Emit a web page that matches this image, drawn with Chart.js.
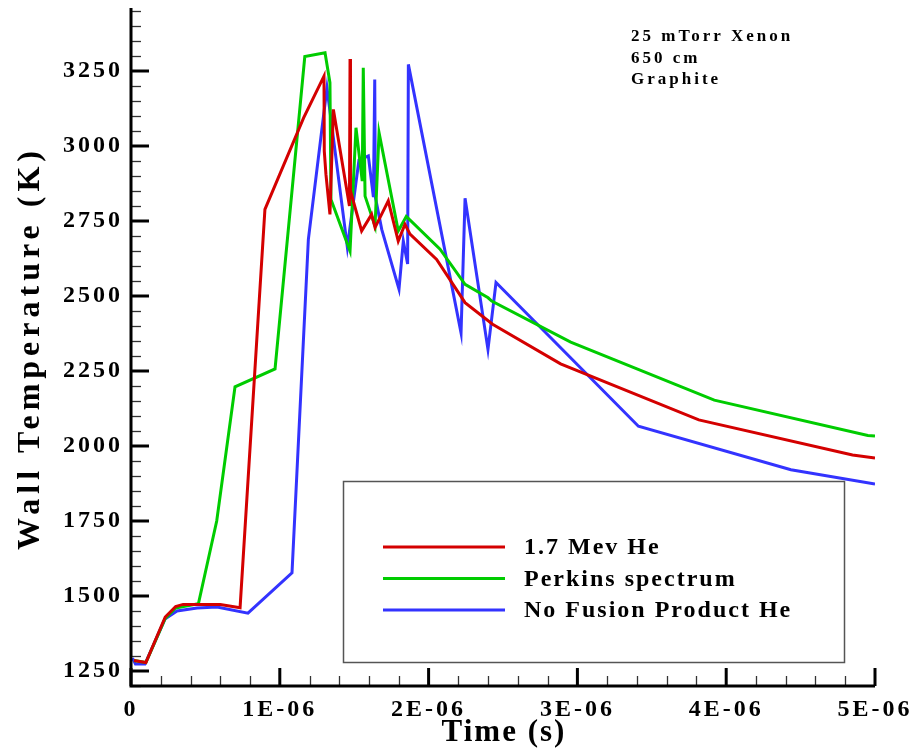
<!DOCTYPE html>
<html>
<head>
<meta charset="utf-8">
<script src="https://cdn.jsdelivr.net/npm/chart.js@4.4.0/dist/chart.umd.min.js"></script>
<style>
  html, body { margin: 0; padding: 0; background: #fff; }
  canvas { display: block; }
</style>
</head>
<body>
<canvas id="wallChart" width="914" height="748"></canvas>
<script>
// 1.7 MeV He
const redTime = [0.02e-6, 0.10e-6, 0.23e-6, 0.30e-6, 0.35e-6, 0.60e-6, 0.733e-6, 0.90e-6, 1.16e-6, 1.297e-6,
  1.299e-6, 1.31e-6, 1.337e-6, 1.36e-6, 1.468e-6, 1.472e-6, 1.475e-6, 1.55e-6, 1.617e-6, 1.64e-6,
  1.729e-6, 1.796e-6, 1.841e-6, 1.875e-6, 2.054e-6, 2.245e-6, 2.43e-6, 2.887e-6, 3.816e-6, 4.849e-6, 5.0e-6];
const redTemp = [1285, 1278, 1430, 1465, 1472, 1472, 1461, 2789, 3094, 3233,
  2983, 2906, 2772, 3122, 2800, 3290, 2850, 2717, 2772, 2728,
  2817, 2683, 2739, 2706, 2622, 2478, 2406, 2274, 2087, 1970, 1960];

// Perkins spectrum
const greenTime = [0.02e-6, 0.10e-6, 0.23e-6, 0.30e-6, 0.453e-6, 0.576e-6, 0.699e-6, 0.968e-6, 1.168e-6, 1.304e-6,
  1.337e-6, 1.344e-6, 1.472e-6, 1.512e-6, 1.554e-6, 1.561e-6, 1.573e-6, 1.64e-6, 1.667e-6, 1.796e-6,
  1.85e-6, 2.077e-6, 2.245e-6, 2.40e-6, 2.424e-6, 2.955e-6, 3.92e-6, 4.952e-6, 5.0e-6];
const greenTemp = [1285, 1278, 1425, 1460, 1474, 1750, 2197, 2257, 3298, 3311,
  3211, 2822, 2650, 3061, 2883, 3261, 2833, 2733, 3044, 2717,
  2765, 2656, 2539, 2494, 2483, 2346, 2153, 2035, 2033];

// No Fusion Product He
const blueTime = [0.01e-6, 0.03e-6, 0.094e-6, 0.228e-6, 0.309e-6, 0.444e-6, 0.578e-6, 0.786e-6, 1.082e-6, 1.192e-6,
  1.317e-6, 1.454e-6, 1.532e-6, 1.595e-6, 1.629e-6, 1.638e-6, 1.642e-6, 1.685e-6, 1.801e-6, 1.83e-6,
  1.859e-6, 1.864e-6, 2.218e-6, 2.245e-6, 2.399e-6, 2.453e-6, 3.41e-6, 4.435e-6, 5.0e-6];
const blueTemp = [1293, 1273, 1273, 1423, 1450, 1460, 1463, 1443, 1577, 2689,
  3194, 2663, 2953, 2967, 2830, 3222, 2830, 2722, 2523, 2683,
  2607, 3272, 2377, 2826, 2322, 2545, 2066, 1921, 1873];

const seriesNames = ['1.7 Mev He', 'Perkins spectrum', 'No Fusion Product He'];
const seriesColors = ['#d40000', '#00cc00', '#3333ff'];

const xTickValues = [0, 1e-6, 2e-6, 3e-6, 4e-6, 5e-6];
const xTickLabels = ['0', '1E-06', '2E-06', '3E-06', '4E-06', '5E-06'];
const yTickValues = [1250, 1500, 1750, 2000, 2250, 2500, 2750, 3000, 3250];
const xTitle = 'Time (s)';
const yTitle = 'Wall Temperature (K)';
const noteLines = ['25 mTorr Xenon', '650 cm', 'Graphite'];

const FONT = '"Liberation Serif", "DejaVu Serif", serif';

function toPoints(xs, ys) {
  return xs.map((t, i) => ({ x: t, y: ys[i] }));
}

// Chart.js adds room for half labels; the plot box is fixed here instead
function fixBox(s) {
  s.paddingTop = 0; s.paddingBottom = 0; s.paddingLeft = 0; s.paddingRight = 0;
}

// axes with inward ticks, titles, legend box and note
const tecplotLook = {
  id: 'tecplotLook',
  beforeLayout(chart) { chart.ctx.letterSpacing = '3px'; },
  beforeDraw(chart) { chart.ctx.letterSpacing = '3px'; },
  afterDraw(chart) {
    const { ctx, chartArea: a, scales: { x, y } } = chart;
    ctx.save();
    ctx.lineCap = 'butt';

    // minor ticks
    ctx.lineWidth = 1.3;
    ctx.strokeStyle = '#333';
    for (let v = 1200; v <= 3450; v += 50) {
      if (yTickValues.includes(v)) continue;
      const py = Math.round(y.getPixelForValue(v)) + 0.5;
      ctx.beginPath(); ctx.moveTo(a.left, py); ctx.lineTo(a.left + 10, py); ctx.stroke();
    }
    for (let k = 1; k < 25; k++) {
      if (k % 5 === 0) continue;
      const px = Math.round(x.getPixelForValue(k * 0.2e-6)) + 0.5;
      ctx.beginPath(); ctx.moveTo(px, a.bottom); ctx.lineTo(px, a.bottom - 10); ctx.stroke();
    }

    // major ticks
    ctx.strokeStyle = '#000';
    ctx.lineWidth = 3;
    yTickValues.forEach(v => {
      const py = y.getPixelForValue(v);
      ctx.beginPath(); ctx.moveTo(a.left, py); ctx.lineTo(a.left + 18, py); ctx.stroke();
    });
    xTickValues.forEach(v => {
      const px = x.getPixelForValue(v);
      ctx.beginPath(); ctx.moveTo(px, a.bottom); ctx.lineTo(px, a.bottom - 18); ctx.stroke();
    });

    // axis lines
    ctx.beginPath();
    ctx.moveTo(a.left, a.top);
    ctx.lineTo(a.left, a.bottom);
    ctx.lineTo(a.right, a.bottom);
    ctx.stroke();

    // axis titles
    ctx.fillStyle = '#000';
    ctx.textBaseline = 'middle';
    ctx.textAlign = 'center';
    ctx.font = 'bold 31px ' + FONT;
    ctx.letterSpacing = '2px';
    ctx.fillText(xTitle, (a.left + a.right) / 2 + 1, 733);
    ctx.save();
    ctx.translate(31, 350);
    ctx.rotate(-Math.PI / 2);
    ctx.font = 'bold 32px ' + FONT;
    ctx.letterSpacing = '5px';
    ctx.fillText(yTitle, 2, 0);
    ctx.restore();

    // legend box
    ctx.lineWidth = 1.5;
    ctx.strokeStyle = '#555';
    ctx.strokeRect(343.5, 481.5, 501, 181);
    ctx.font = 'bold 24px ' + FONT;
    ctx.letterSpacing = '2px';
    ctx.textAlign = 'left';
    chart.data.datasets.forEach((ds, i) => {
      const ly = 547 + i * 31.5;
      ctx.strokeStyle = ds.borderColor;
      ctx.lineWidth = 3;
      ctx.beginPath(); ctx.moveTo(383, ly); ctx.lineTo(505, ly); ctx.stroke();
      ctx.fillText(ds.label, 524, ly + 1);
    });

    // note in the corner
    ctx.font = 'bold 17px ' + FONT;
    ctx.letterSpacing = '3px';
    noteLines.forEach((s, i) => ctx.fillText(s, 631, 37 + i * 21.5));
    ctx.restore();
  }
};

function initChart() {
  const timeLists = [redTime, greenTime, blueTime];
  const tempLists = [redTemp, greenTemp, blueTemp];
  const datasets = seriesNames.map((name, i) => ({
    label: name,
    data: toPoints(timeLists[i], tempLists[i]),
    borderColor: seriesColors[i],
    backgroundColor: seriesColors[i],
    borderWidth: 3,
    pointRadius: 0,
    tension: 0,
    fill: false
  }));

  new Chart(document.getElementById('wallChart'), {
    type: 'line',
    data: { datasets },
    options: {
      responsive: false,
      animation: false,
      layout: { padding: { left: 0, right: 39, top: 8, bottom: 0 } },
      plugins: { legend: { display: false }, tooltip: { enabled: false } },
      scales: {
        x: {
          type: 'linear',
          min: 0,
          max: 5e-6,
          grid: { display: false, drawTicks: false },
          border: { display: false },
          afterBuildTicks: s => { s.ticks = xTickValues.map(v => ({ value: v })); },
          afterFit: s => { s.height = 62; fixBox(s); },
          ticks: {
            padding: 9,
            color: '#000',
            maxRotation: 0,
            font: { family: FONT, size: 24, weight: 'bold' },
            callback: (v) => xTickLabels[xTickValues.indexOf(v)] ?? ''
          }
        },
        y: {
          min: 1200,
          max: 3460,
          grid: { display: false, drawTicks: false },
          border: { display: false },
          afterBuildTicks: s => { s.ticks = yTickValues.map(v => ({ value: v })); },
          afterFit: s => { s.width = 131; fixBox(s); },
          ticks: {
            padding: 8,
            color: '#000',
            font: { family: FONT, size: 24, weight: 'bold' },
            callback: v => String(v)
          }
        }
      }
    },
    plugins: [tecplotLook]
  });
}

document.addEventListener('DOMContentLoaded', initChart);
</script>
</body>
</html>
